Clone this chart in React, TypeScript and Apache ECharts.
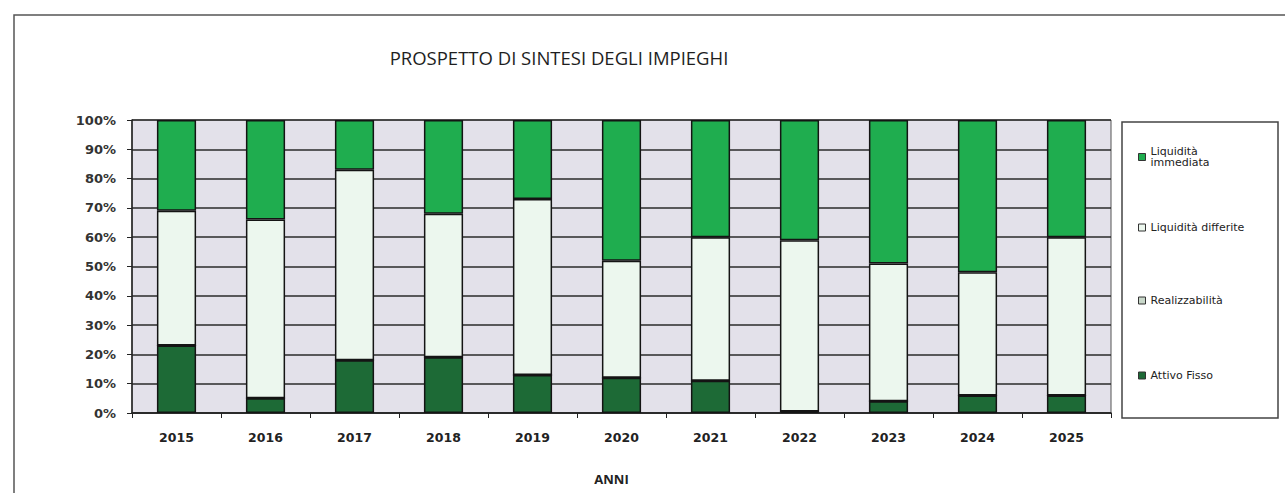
import React, { useEffect, useRef } from "react";
import * as echarts from "echarts";

const years = ["2015", "2016", "2017", "2018", "2019", "2020", "2021", "2022", "2023", "2024", "2025"];
const attivoFisso = [23, 5, 18, 19, 13, 12, 11, 0.5, 4, 6, 6];
const realizzabilita = [0, 0, 0, 0, 0, 0, 0, 0, 0, 0, 0];
const liquiditaDifferite = [46, 61, 65, 49, 60, 40, 49, 58.5, 47, 42, 54];
const liquiditaImmediate = [31, 34, 17, 32, 27, 48, 40, 41, 49, 52, 40];
const yTicks = [0, 10, 20, 30, 40, 50, 60, 70, 80, 90, 100];

const NAME_LI = "Liquidità immediata";
const NAME_LD = "Liquidità differite";
const NAME_RE = "Realizzabilità";
const NAME_AF = "Attivo Fisso";

export default function App() {
  const ref = useRef<HTMLDivElement>(null);
  useEffect(() => {
    if (!ref.current) return;
    const chart = echarts.init(ref.current, null, { renderer: "svg" });
    const border = { borderColor: "#141414", borderWidth: 1.5 };
    const legendText = { fontFamily: "DejaVu Sans", fontSize: 11, color: "#222" };
    const mkLegend = (name: string, top: number, fmt?: (n: string) => string) => ({
      orient: "vertical",
      left: 1133,
      top,
      itemWidth: 7,
      itemHeight: 7,
      itemGap: 4,
      icon: "rect",
      data: [name],
      textStyle: legendText,
      formatter: fmt,
      selectedMode: false,
      itemStyle: { borderColor: "#333", borderWidth: 1 },
    });
    chart.setOption({
      animation: false,
      backgroundColor: "#ffffff",
      title: {
        text: "PROSPETTO DI SINTESI DEGLI IMPIEGHI",
        left: 554,
        top: 43,
        textAlign: "center",
        textStyle: { fontFamily: "Open Sans", fontWeight: "normal", fontSize: 18.5, color: "#1e1e1e" },
      },
      graphic: [
        {
          type: "rect",
          shape: { x: 14, y: 15, width: 1400, height: 600 },
          style: { fill: "none", stroke: "#555", lineWidth: 1.5 },
          silent: true,
        },
        {
          type: "rect",
          shape: { x: 1122, y: 122, width: 156, height: 296 },
          style: { fill: "#ffffff", stroke: "#444", lineWidth: 1.5 },
          silent: true,
          z: -1,
        },
      ],
      legend: [
        mkLegend(NAME_LI, 141, () => "Liquidità\nimmediata"),
        mkLegend(NAME_LD, 217),
        mkLegend(NAME_RE, 290),
        mkLegend(NAME_AF, 365),
      ],
      grid: {
        left: 132,
        right: 174,
        top: 120,
        bottom: 80,
        show: true,
        backgroundColor: "#e3e1ea",
        borderColor: "#555",
        borderWidth: 1,
      },
      xAxis: {
        type: "category",
        data: years,
        name: "ANNI",
        nameLocation: "middle",
        nameGap: 59,
        nameTextStyle: { fontFamily: "Open Sans", fontSize: 13, color: "#222", fontWeight: "bold", padding: [0, 20, 0, 0] },
        axisLine: { lineStyle: { color: "#222", width: 1.5 } },
        axisTick: { show: true, length: 5, lineStyle: { color: "#222" } },
        axisLabel: { fontFamily: "DejaVu Sans", fontSize: 12.5, color: "#222", fontWeight: "bold", margin: 18 },
      },
      yAxis: {
        type: "value",
        min: yTicks[0],
        max: yTicks[yTicks.length - 1],
        interval: 10,
        axisLine: { show: true, lineStyle: { color: "#222", width: 1.5 } },
        axisTick: { show: true, length: 5, lineStyle: { color: "#222" } },
        axisLabel: {
          formatter: "{value}%",
          fontFamily: "DejaVu Sans",
          fontSize: 13,
          color: "#333",
          fontWeight: "bold",
          margin: 16,
        },
        splitLine: { lineStyle: { color: "#2a2a2a", width: 1.5 } },
      },
      series: [
        { name: NAME_AF, type: "bar", stack: "t", data: attivoFisso, barCategoryGap: "56%", itemStyle: { color: "#1d6a36", ...border } },
        { name: NAME_RE, type: "bar", stack: "t", data: realizzabilita, itemStyle: { color: "#c9d8ca", ...border } },
        { name: NAME_LD, type: "bar", stack: "t", data: liquiditaDifferite, itemStyle: { color: "#ecf7ee", ...border } },
        { name: NAME_LI, type: "bar", stack: "t", data: liquiditaImmediate, itemStyle: { color: "#1fad4f", ...border } },
      ],
    });
    return () => chart.dispose();
  }, []);
  return (
    <div
      ref={ref}
      style={{ position: "fixed", left: 0, top: 0, width: 1285, height: 493 }}
    />
  );
}
